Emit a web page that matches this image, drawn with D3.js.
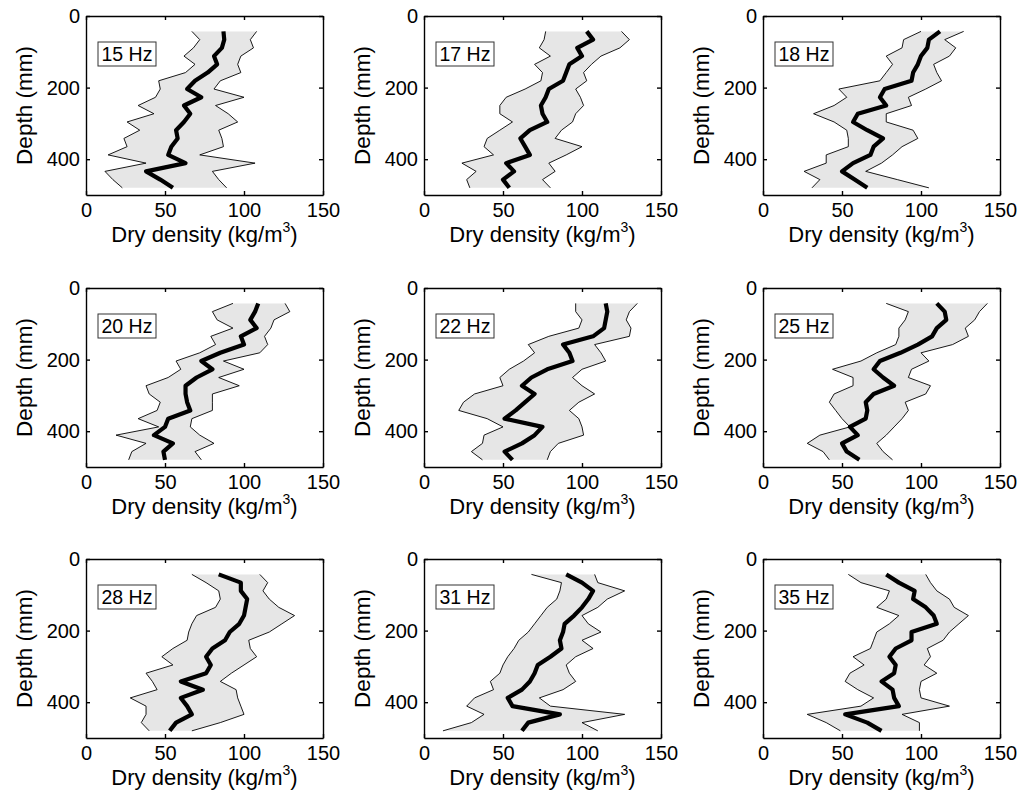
<!DOCTYPE html>
<html>
<head>
<meta charset="utf-8">
<script src="https://cdn.jsdelivr.net/npm/d3@7"></script>
<style>
  body { margin: 0; background: #fff; }
  svg { font-family: "Liberation Sans", Arial, sans-serif; }
  .axis path, .axis line { stroke: #000; stroke-width: 1.4; }
  .axis text { font-size: 20px; fill: #000; }
</style>
</head>
<body>
<div id="chart"></div>
<script>
// depth of each measuring layer (mm)
var depths = [43, 66, 89, 112, 135, 158, 181, 204, 227, 250, 273, 296, 319, 342, 365, 388, 411, 434, 457, 480];

var freqs = ["15 Hz", "17 Hz", "18 Hz", "20 Hz", "22 Hz", "25 Hz", "28 Hz", "31 Hz", "35 Hz"];

// mean dry density per layer (kg/m3), one row per frequency
var meanDensity = [
  [87, 87.5, 86, 81, 83, 77, 69, 64, 73, 62, 66, 62, 57, 58, 54, 52, 63, 38, 47, 55],
  [103, 107, 97, 100, 92, 90, 88, 79, 77, 74, 75, 78, 67, 61, 64, 67, 52, 57, 50, 54],
  [112, 105, 104, 100, 98, 95, 94, 77, 74, 78, 60, 57, 66, 76, 70, 68, 57, 50, 58, 66],
  [109, 107, 104, 108, 98, 100, 85, 73, 80, 70, 63, 63, 64, 66, 52, 50, 43, 55, 49, 50],
  [115, 116, 115, 114, 107, 88, 92, 94, 78, 68, 62, 70, 64, 58, 51, 75, 70, 62, 51, 56],
  [110, 115, 116, 110, 107, 98, 87, 74, 70, 76, 83, 70, 65, 66, 65, 55, 60, 50, 53, 61],
  [84, 98, 98, 102, 101, 100, 97, 91, 88, 80, 76, 79, 76, 60, 74, 60, 64, 67, 57, 53],
  [90, 100, 107, 104, 100, 95, 89, 88, 86, 87, 80, 72, 70, 67, 62, 53, 56, 86, 66, 62],
  [78, 86, 96, 95, 103, 108, 110, 94, 94, 84, 80, 84, 83, 75, 82, 83, 86, 52, 66, 75]
];

// lowest measured density per layer
var minDensity = [
  [67, 72, 68, 62, 69, 63, 46, 47, 44, 33, 43, 26, 34, 24, 26, 14, 38, 12, 17, 23],
  [77, 76, 73, 80, 70, 75, 74, 64, 52, 48, 48, 56, 48, 40, 38, 44, 24, 33, 27, 29],
  [100, 89, 88, 78, 82, 78, 74, 48, 53, 45, 32, 45, 53, 54, 54, 40, 40, 26, 36, 31],
  [93, 80, 83, 93, 79, 82, 72, 57, 60, 52, 38, 40, 47, 45, 33, 46, 19, 38, 29, 27],
  [96, 96, 100, 98, 79, 66, 70, 63, 54, 48, 50, 32, 25, 22, 40, 50, 38, 37, 30, 37],
  [78, 92, 90, 86, 86, 84, 72, 62, 44, 57, 57, 45, 42, 46, 50, 55, 36, 28, 38, 42],
  [67, 76, 84, 85, 82, 70, 67, 65, 64, 55, 48, 55, 38, 42, 45, 28, 38, 38, 35, 40],
  [68, 87, 86, 84, 78, 74, 70, 66, 60, 57, 53, 50, 48, 42, 44, 32, 27, 38, 30, 12],
  [54, 62, 80, 78, 72, 86, 80, 72, 70, 68, 57, 64, 55, 52, 60, 70, 62, 28, 40, 49]
];

// highest measured density per layer
var maxDensity = [
  [108, 104, 106, 98, 96, 98, 85, 81, 100, 82, 90, 96, 84, 86, 87, 72, 107, 80, 84, 89],
  [125, 130, 124, 112, 106, 101, 103, 96, 99, 101, 96, 94, 87, 83, 100, 90, 79, 83, 75, 80],
  [127, 115, 122, 118, 108, 110, 113, 103, 92, 94, 78, 78, 95, 98, 88, 82, 75, 65, 85, 105],
  [126, 129, 119, 117, 113, 115, 110, 87, 100, 84, 97, 80, 80, 80, 67, 66, 72, 81, 69, 73],
  [135, 130, 128, 131, 130, 108, 112, 115, 100, 94, 100, 108, 98, 92, 98, 100, 101, 85, 80, 78],
  [142, 137, 134, 128, 130, 120, 100, 105, 94, 92, 106, 103, 90, 92, 88, 83, 78, 72, 76, 82],
  [110, 115, 112, 116, 122, 132, 124, 116, 103, 104, 108, 100, 92, 85, 95, 96, 98, 100, 85, 67],
  [108, 110, 127, 116, 110, 100, 104, 112, 100, 107, 96, 90, 92, 96, 88, 73, 80, 127, 100, 110],
  [103, 106, 110, 118, 121, 130, 124, 118, 114, 104, 106, 102, 110, 100, 99, 100, 118, 88, 99, 99]
];

var xTicks = [0, 50, 100, 150];
var yTicks = [0, 200, 400];

var W = 1026, H = 802;
var colLeft = [86, 424, 763];
var rowTop = [16, 288, 559];
var pw = 237, ph = 179;

var svg = d3.select("#chart").append("svg")
    .attr("width", W)
    .attr("height", H);

var x = d3.scaleLinear().domain([0, 150]).range([0, pw]);
var y = d3.scaleLinear().domain([0, 500]).range([0, ph]);

svg.append("defs").append("clipPath")
    .attr("id", "plotclip")
  .append("rect")
    .attr("width", pw)
    .attr("height", ph);

freqs.forEach(function(f, k) {
  var rows = depths.map(function(d, i) {
    return {depth: d, mean: meanDensity[k][i], lo: minDensity[k][i], hi: maxDensity[k][i]};
  });

  var g = svg.append("g")
      .attr("transform", "translate(" + colLeft[k % 3] + "," + rowTop[Math.floor(k / 3)] + ")");

  var plot = g.append("g").attr("clip-path", "url(#plotclip)");

  var area = d3.area()
      .y(function(d) { return y(d.depth); })
      .x0(function(d) { return x(d.lo); })
      .x1(function(d) { return x(d.hi); });

  plot.append("path")
      .datum(rows)
      .attr("d", area)
      .attr("fill", "#e6e6e6")
      .attr("stroke", "none");

  ["lo", "hi"].forEach(function(key) {
    plot.append("path")
        .datum(rows)
        .attr("d", d3.line()
          .x(function(d) { return x(d[key]); })
          .y(function(d) { return y(d.depth); }))
        .attr("fill", "none")
        .attr("stroke", "#000")
        .attr("stroke-width", 0.9);
  });

  plot.append("path")
      .datum(rows)
      .attr("d", d3.line()
        .x(function(d) { return x(d.mean); })
        .y(function(d) { return y(d.depth); }))
      .attr("fill", "none")
      .attr("stroke", "#000")
      .attr("stroke-width", 4.2)
      .attr("stroke-linejoin", "round");

  // axes, ticks pointing inwards on all four sides
  g.append("g")
      .attr("class", "axis")
      .attr("transform", "translate(0," + ph + ")")
      .call(d3.axisBottom(x).tickValues(xTicks).tickSizeInner(-4).tickSizeOuter(0).tickPadding(8));
  g.append("g")
      .attr("class", "axis")
      .call(d3.axisTop(x).tickValues(xTicks).tickSizeInner(-4).tickSizeOuter(0).tickFormat(""));
  g.append("g")
      .attr("class", "axis")
      .call(d3.axisLeft(y).tickValues(yTicks).tickSizeInner(-4).tickSizeOuter(0).tickPadding(6));
  g.append("g")
      .attr("class", "axis")
      .attr("transform", "translate(" + pw + ",0)")
      .call(d3.axisRight(y).tickValues(yTicks).tickSizeInner(-4).tickSizeOuter(0).tickFormat(""));

  var xl = g.append("text")
      .attr("x", pw / 2)
      .attr("y", ph + 47)
      .attr("text-anchor", "middle")
      .style("font-size", "22px");
  xl.append("tspan").text("Dry density (kg/m");
  xl.append("tspan").attr("dy", -10).style("font-size", "14px").text("3");
  xl.append("tspan").attr("dy", 10).text(")");

  g.append("text")
      .attr("transform", "translate(-54," + (ph / 2) + ") rotate(-90)")
      .attr("text-anchor", "middle")
      .style("font-size", "22.5px")
      .text("Depth (mm)");

  // frequency label box
  g.append("rect")
      .attr("x", 12)
      .attr("y", 26)
      .attr("width", 58)
      .attr("height", 24)
      .attr("fill", "#fff")
      .attr("stroke", "#333")
      .attr("stroke-width", 1);
  g.append("text")
      .attr("x", 15.5)
      .attr("y", 45)
      .style("font-size", "19.5px")
      .text(f);
});
</script>
</body>
</html>
